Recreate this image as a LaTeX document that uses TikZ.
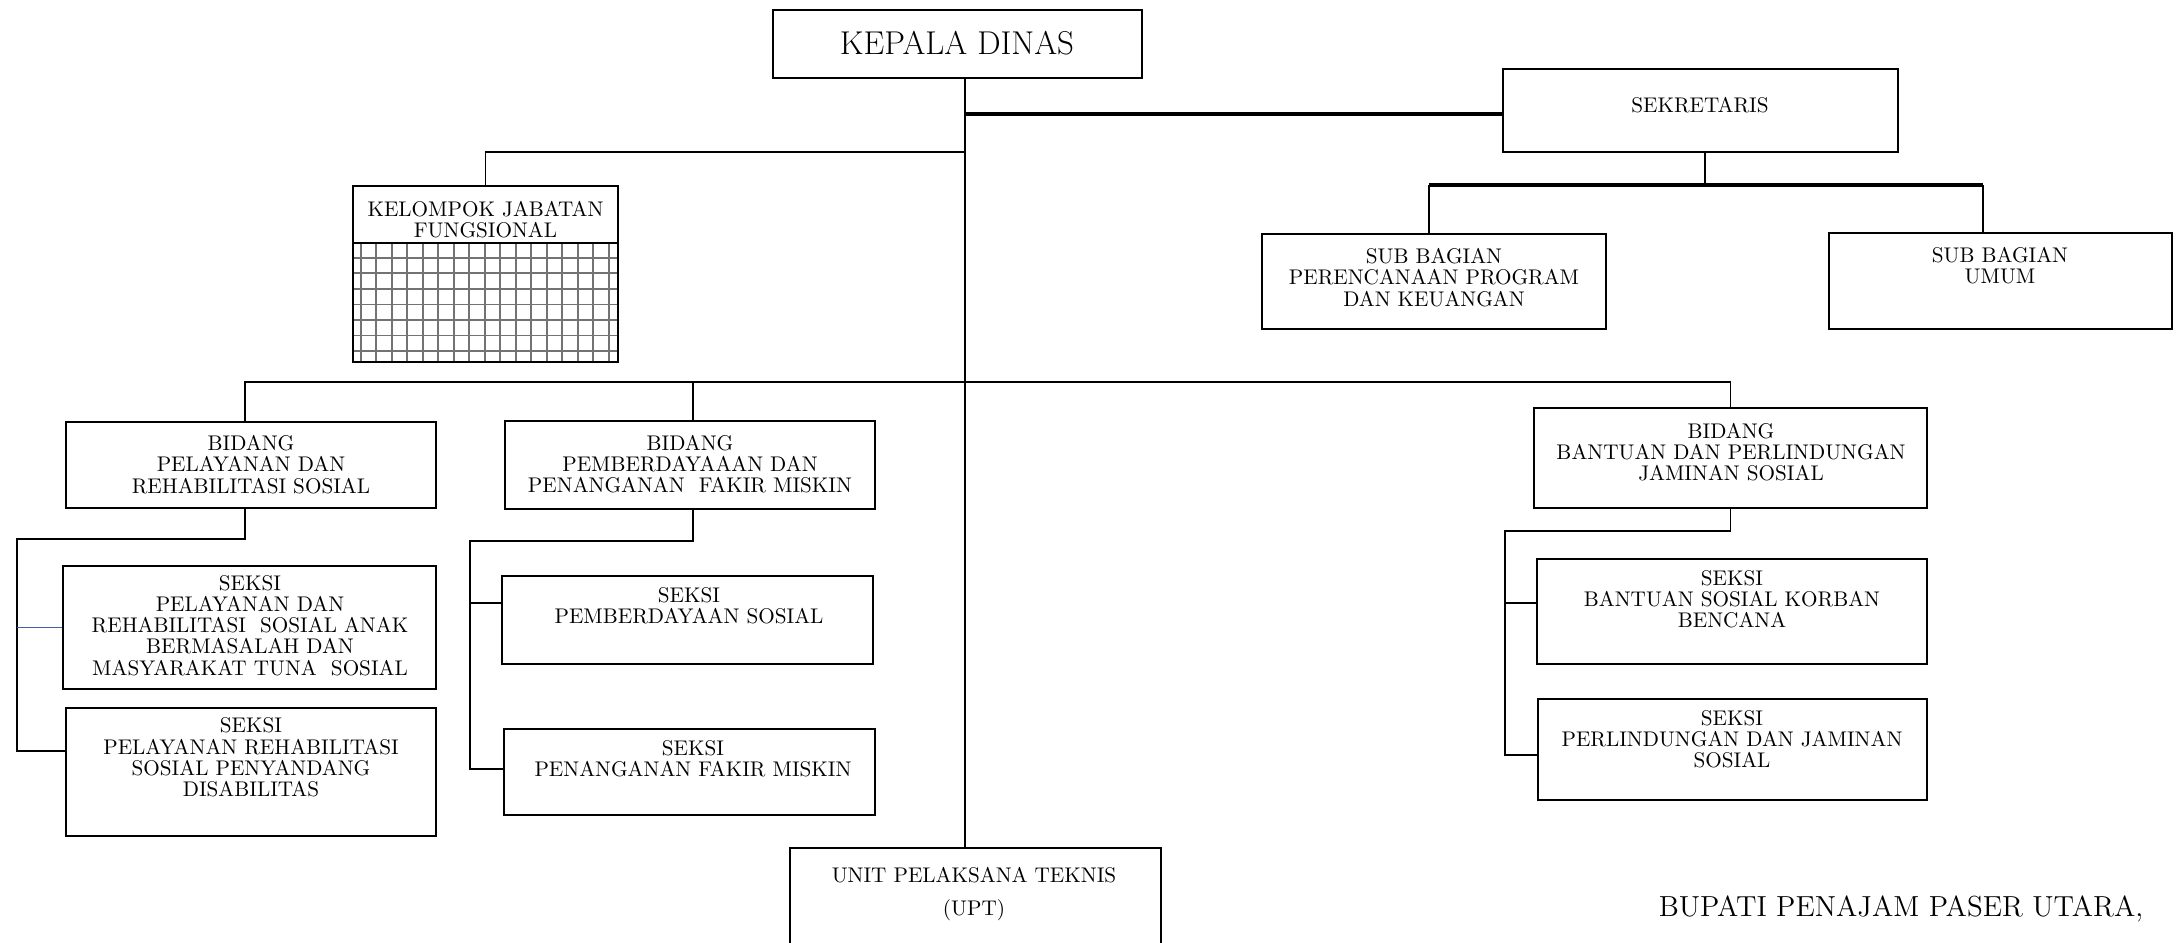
\documentclass[tikz,border=0pt]{standalone}
\usetikzlibrary{fit}
\definecolor{stubblue}{RGB}{58,100,170}
\begin{document}
\begin{tikzpicture}[x=0.5pt,y=-0.5pt,
  box/.style={draw,line width=0.9pt,inner sep=0pt},
  boxtxt/.style={inner sep=0pt,align=center,font=\fontsize{10.6}{10.6}\selectfont},
  link/.style={line width=0.75pt},
  heavy/.style={line width=1.6pt},
  bluelink/.style={stubblue,line width=0.8pt},
  gridln/.style={black!55,line width=0.85pt}]
\useasboundingbox (0,0) rectangle (2183,942);

\node[box,fit={(773,10) (1142,78)}] (kd) {};
\node[boxtxt,font=\fontsize{16.5}{17}\selectfont] (kdt) at (957,43) {KEPALA DINAS};

\node[box,fit={(1503,69) (1898,152)}] (sek) {};
\node[boxtxt] (sekt) at (1700,105) {SEKRETARIS};

\foreach \i in {0,...,16}
  \draw[gridln] (360.7+15.5*\i,243) -- ++(0,119);
\foreach \j in {0,...,6}
  \draw[gridln] (353,257.7+15.55*\j) -- ++(265,0);
\node[box,fit={(353,186) (618,243)}] (kjfh) {};
\node[box,fit={(353,243) (618,362)}] (kjf) {};
\node[boxtxt] (kjft) at (485.5,220) {KELOMPOK JABATAN\\FUNGSIONAL};

\node[box,fit={(1262,234) (1606,329)}] (spp) {};
\node[boxtxt] (sppt) at (1434,277.5) {SUB BAGIAN\\PERENCANAAN PROGRAM\\DAN KEUANGAN};
\node[box,fit={(1829,233) (2172,329)}] (sum) {};
\node[boxtxt] (sumt) at (2000,266) {SUB BAGIAN\\UMUM};

\node[box,fit={(66,422) (436,508)}] (bpr) {};
\node[boxtxt] (bprt) at (251,464.5) {BIDANG\\PELAYANAN DAN\\REHABILITASI SOSIAL};
\node[box,fit={(505,421) (875,509)}] (bpf) {};
\node[boxtxt] (bpft) at (690,464) {BIDANG\\PEMBERDAYAAAN DAN\\PENANGANAN\ \ FAKIR MISKIN};
\node[box,fit={(1534,408) (1927,508)}] (bbj) {};
\node[boxtxt] (bbjt) at (1731,452) {BIDANG\\BANTUAN DAN PERLINDUNGAN\\JAMINAN SOSIAL};

\node[box,fit={(63,566) (436,689)}] (s1) {};
\node[boxtxt] (s1t) at (250,625.5) {SEKSI\\PELAYANAN DAN\\REHABILITASI\ \ SOSIAL ANAK\\BERMASALAH DAN\\MASYARAKAT TUNA\ \ SOSIAL};
\node[box,fit={(66,708) (436,836)}] (s2) {};
\node[boxtxt] (s2t) at (251,757.5) {SEKSI\\PELAYANAN REHABILITASI\\SOSIAL PENYANDANG\\DISABILITAS};
\node[box,fit={(502,576) (873,664)}] (s3) {};
\node[boxtxt] (s3t) at (689,606) {SEKSI\\PEMBERDAYAAN SOSIAL};
\node[box,fit={(504,729) (875,815)}] (s4) {};
\node[boxtxt] (s4t) at (693,759) {SEKSI\\PENANGANAN FAKIR MISKIN};
\node[box,fit={(1537,559) (1927,664)}] (s5) {};
\node[boxtxt] (s5t) at (1732,599) {SEKSI\\BANTUAN SOSIAL KORBAN\\BENCANA};
\node[box,fit={(1538,699) (1927,800)}] (s6) {};
\node[boxtxt] (s6t) at (1732,739.5) {SEKSI\\PERLINDUNGAN DAN JAMINAN\\SOSIAL};

\node[box,fit={(790,848) (1161,980)}] (upt) {};
\node[boxtxt,font=\fontsize{10.6}{16.5}\selectfont] (uptt) at (974,894.5) {UNIT PELAKSANA TEKNIS\\(UPT)};

\node[inner sep=0pt,font=\fontsize{14.5}{15}\selectfont] (bup) at (1901,909) {BUPATI PENAJAM PASER UTARA,};

\coordinate (top) at (965,848);
\coordinate (jsk) at (965,114);
\coordinate (jkj) at (965,152);
\coordinate (jbd) at (965,382);
\draw[link] (kd.south -| top) -- (top);
\draw[heavy] (jsk) -- (jsk -| sek.west);
\draw[link] (jkj) -| (kjfh.north);

\coordinate (jsb) at (1705,185);
\coordinate (jpp) at (1429,185);
\coordinate (jum) at (1983,185);
\draw[link] (sek.south -| jsb) -- (jsb);
\draw[heavy] (jpp) -- (jum);
\draw[link] (jpp) -- (jpp |- spp.north);
\draw[link] (jum) -- (jum |- sum.north);

\coordinate (dpr) at (245,422);
\coordinate (dpf) at (693,421);
\draw[link] (dpr) |- (jbd) -- (jbd -| bbj.north) -- (bbj.north);
\draw[link] (dpf) -- (dpf |- jbd);

\coordinate (lp1) at (17,539);
\coordinate (lp2) at (17,751);
\draw[link] (dpr |- bpr.south) |- (lp1) -- (lp2) -- (lp2 -| s2.west);
\draw[bluelink] (lp1 |- s1.west) -- (s1.west);

\coordinate (lf1) at (470,541);
\coordinate (lf2) at (470,769);
\coordinate (lf3) at (470,603);
\draw[link] (dpf |- bpf.south) |- (lf1) -- (lf2) -- (lf2 -| s4.west);
\draw[link] (lf3) -- (lf3 -| s3.west);

\coordinate (lb1) at (1505,531);
\coordinate (lb2) at (1505,755);
\coordinate (lb3) at (1505,603);
\draw[link] (bbj.south) |- (lb1) -- (lb2) -- (lb2 -| s6.west);
\draw[link] (lb3) -- (lb3 -| s5.west);
\end{tikzpicture}
\end{document}
